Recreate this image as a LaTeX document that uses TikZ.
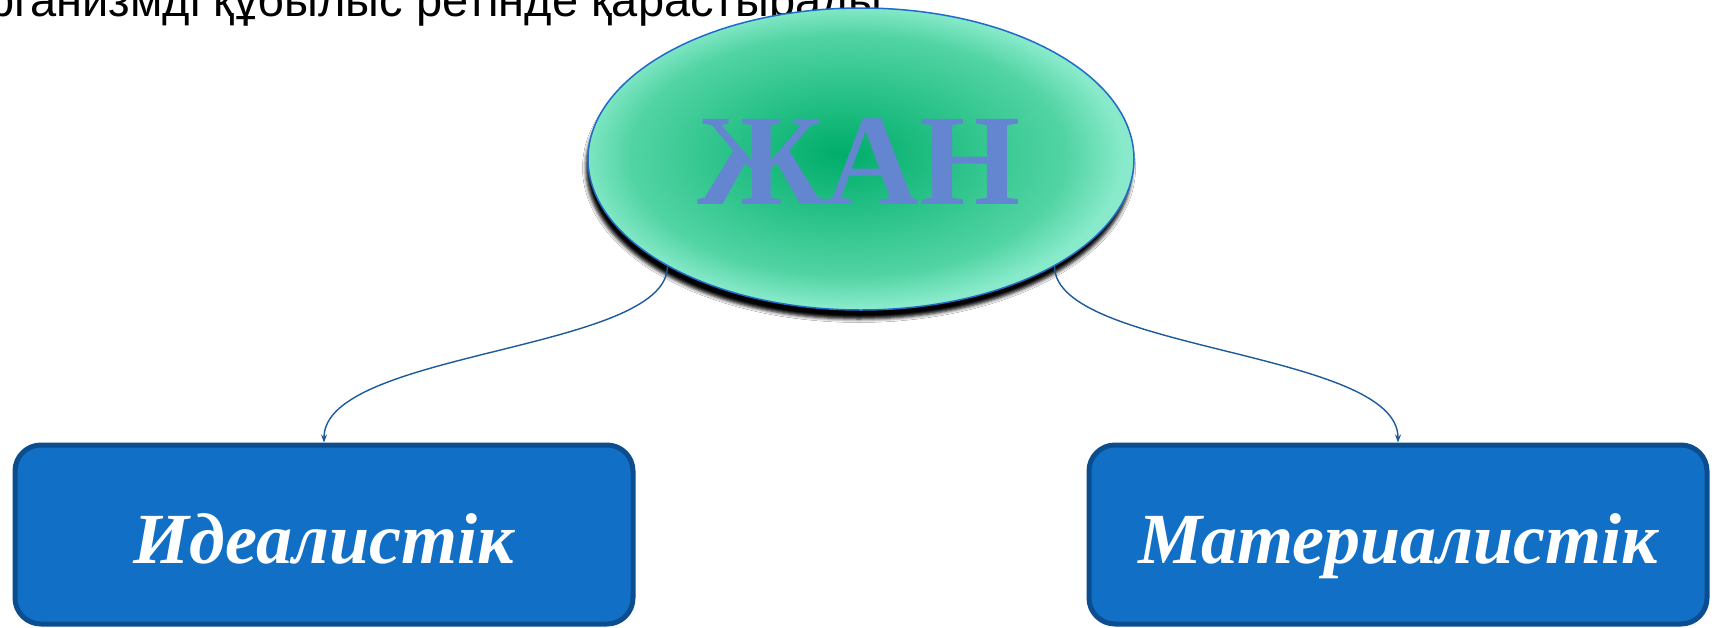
\documentclass[tikz,border=0pt]{standalone}
\usepackage{fontspec}
\setmainfont{Liberation Serif}
\newfontfamily\topsans{Liberation Sans}
\usetikzlibrary{shapes.geometric,shadows.blur,arrows.meta}
\definecolor{ellin}{HTML}{00AD6A}
\definecolor{ellmid}{HTML}{2CC38A}
\definecolor{ellmidb}{HTML}{52D4A4}
\definecolor{ellout}{HTML}{88EACA}
\definecolor{ellborder}{HTML}{1E6CC8}
\definecolor{jantext}{HTML}{6486D0}
\definecolor{boxfill}{HTML}{1170C6}
\definecolor{boxborder}{HTML}{0B4D8E}
\definecolor{connc}{HTML}{1C5A9C}
\pgfdeclareradialshading{ellshade}{\pgfpoint{-2bp}{1bp}}{color(0bp)=(ellin); color(11bp)=(ellmid); color(20bp)=(ellmidb); color(25bp)=(ellout); color(50bp)=(ellout)}
\tikzset{
  soul/.style={ellipse, minimum width=546pt, minimum height=302pt, inner sep=0pt,
    draw=ellborder, line width=1.5pt, shading=ellshade,
    blur shadow={shadow xshift=-2pt, shadow yshift=-9pt, shadow blur radius=3.5pt, shadow opacity=100}},
  catbox/.style={rectangle, rounded corners=26pt, minimum width=618pt, minimum height=179pt,
    inner sep=0pt, fill=boxfill, draw=boxborder, line width=5pt, text=white,
    text height=57pt, text depth=0pt,
    font=\fontsize{72}{72}\selectfont\bfseries\itshape},
  conn/.style={draw=connc, line width=1.4pt, -{Stealth[length=8pt,width=6pt]}}
}
\begin{document}
\begin{tikzpicture}[x=1pt,y=-1pt]
\useasboundingbox (0,0) rectangle (1714,627);
\clip (0,0) rectangle (1714,627);
\fill[white] (0,0) rectangle (1714,627);
\node[anchor=base east, inner sep=0pt, font=\topsans\fontsize{47}{47}\selectfont] (toptext) at (896,16) {Ол тірі организмді құбылыс ретінде қарастырады.};
\node[soul] (jan) at (861,159) {};
\node[text=jantext, font=\fontsize{130}{130}\selectfont\bfseries, anchor=base, inner sep=0pt] (jantxt) at (859,204) {ЖАН};
\node[catbox] (idl) at (324,534.5) {Идеалистік};
\node[catbox] (mat) at (1398,534.5) {Материалистік};
\draw[conn] (jan.209) .. controls +(0,85) and +(0,-92) .. (idl.north);
\draw[conn] (jan.331) .. controls +(0,85) and +(0,-92) .. (mat.north);
\end{tikzpicture}
\end{document}
